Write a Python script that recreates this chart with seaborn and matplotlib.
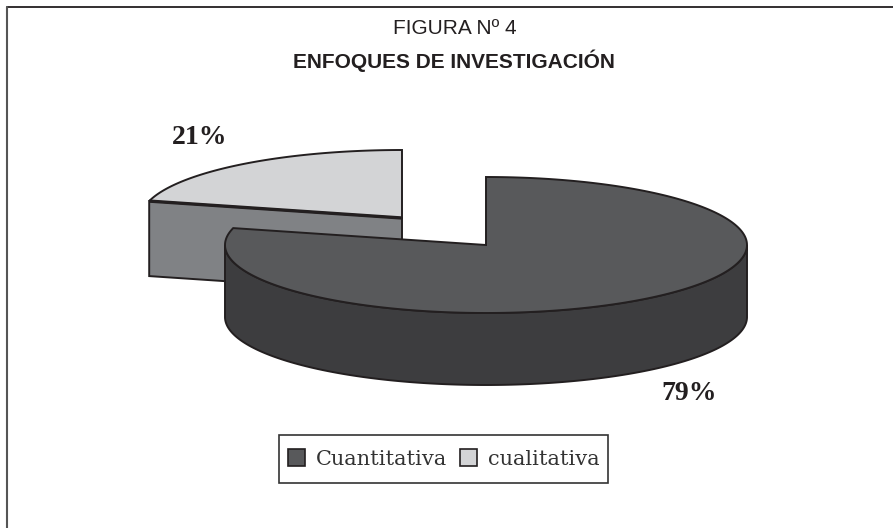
import numpy as np
import matplotlib
matplotlib.use('Agg')
import matplotlib.pyplot as plt
from matplotlib.patches import Patch, Polygon, Rectangle
import seaborn as sns

categories = ['Cuantitativa', 'cualitativa']
values = [79, 21]
pct_labels = ['79%', '21%']
title_top = 'FIGURA Nº 4'
title_main = 'ENFOQUES DE INVESTIGACIÓN'

sns.set_theme(style='white')
palette = sns.color_palette(['#58595b', '#d3d4d6'])
side_big = '#3d3d3f'
side_small = '#808285'
line = '#231f20'

fig, ax = plt.subplots(figsize=(8.93, 5.28), dpi=100)
fig.subplots_adjust(0, 0, 1, 1)
ax.set_xlim(0, 893)
ax.set_ylim(528, 0)
ax.axis('off')

# page frame: only the top and left rules are inside the crop
ax.plot([6.5, 893], [6.5, 6.5], color=line, lw=1.3)
ax.plot([6.5, 6.5], [6.5, 528], color='#555555', lw=1.5)

# ellipse geometry of the tilted pie
rx, ry, depth, small_depth = 261, 68, 72, 75
big_c = (486, 245)
small_c = (402, 218)


def rim(center, a0, a1):
    t = np.radians(np.linspace(a0, a1, 240))
    return np.column_stack([center[0] + rx * np.cos(t), center[1] - ry * np.sin(t)])


# slices run from 12 o'clock, the small one counter clockwise
small_end = 90 + 360 * values[1] / sum(values)

# small slice: cut face first, top afterwards
s_rim = rim(small_c, 90, small_end)
corner = s_rim[-1]
face = [corner, small_c, (small_c[0], small_c[1] + small_depth), (corner[0], corner[1] + small_depth)]
ax.add_patch(Polygon(face, closed=True, fc=side_small, ec=line, lw=1.4))
ax.add_patch(Polygon(np.vstack([s_rim, small_c]), closed=True, fc=palette[1], ec=line, lw=1.4))
ax.plot([corner[0], small_c[0]], [corner[1], small_c[1]], color=line, lw=2.4, solid_capstyle='butt')

# big slice: side wall and top
low = rim(big_c, 180, 360)
wall = np.vstack([low, (low + [0, depth])[::-1]])
ax.add_patch(Polygon(wall, closed=True, fc=side_big, ec=line, lw=1.4))
b_rim = rim(big_c, small_end, 450)
ax.add_patch(Polygon(np.vstack([b_rim, big_c]), closed=True, fc=palette[0], ec=line, lw=1.4))

ax.text(455, 29, title_top, ha='center', va='center', fontsize=15, family='Liberation Sans', color=line)
ax.text(454, 61, title_main, ha='center', va='center', fontsize=15, fontweight='bold',
        family='Liberation Sans', color=line)

ax.text(689, 393, pct_labels[0], ha='center', va='center', fontsize=20, fontweight='bold',
        family='Liberation Serif', color=line)
ax.text(200, 138, pct_labels[1], ha='center', va='center', fontsize=20, fontweight='bold',
        family='Liberation Serif', color=line)

# legend box drawn apart so its size can follow the reference
ax.add_patch(Rectangle((279, 435), 329, 48, fc='white', ec='#333333', lw=1.2, zorder=4))
handles = [Patch(fc=palette[i], ec=line, lw=1.2, label=categories[i]) for i in range(2)]
leg = ax.legend(handles=handles, ncol=2, loc='center', bbox_to_anchor=(443.5, 459),
                bbox_transform=ax.transData, frameon=False,
                prop={'family': 'DejaVu Serif', 'size': 15}, handlelength=0.85, handleheight=0.85,
                handletextpad=0.5, columnspacing=0.6, borderpad=0.55, borderaxespad=0)
leg.set_zorder(5)
for t in leg.get_texts():
    t.set_color('#333333')

fig.savefig('out.png', dpi=100)
